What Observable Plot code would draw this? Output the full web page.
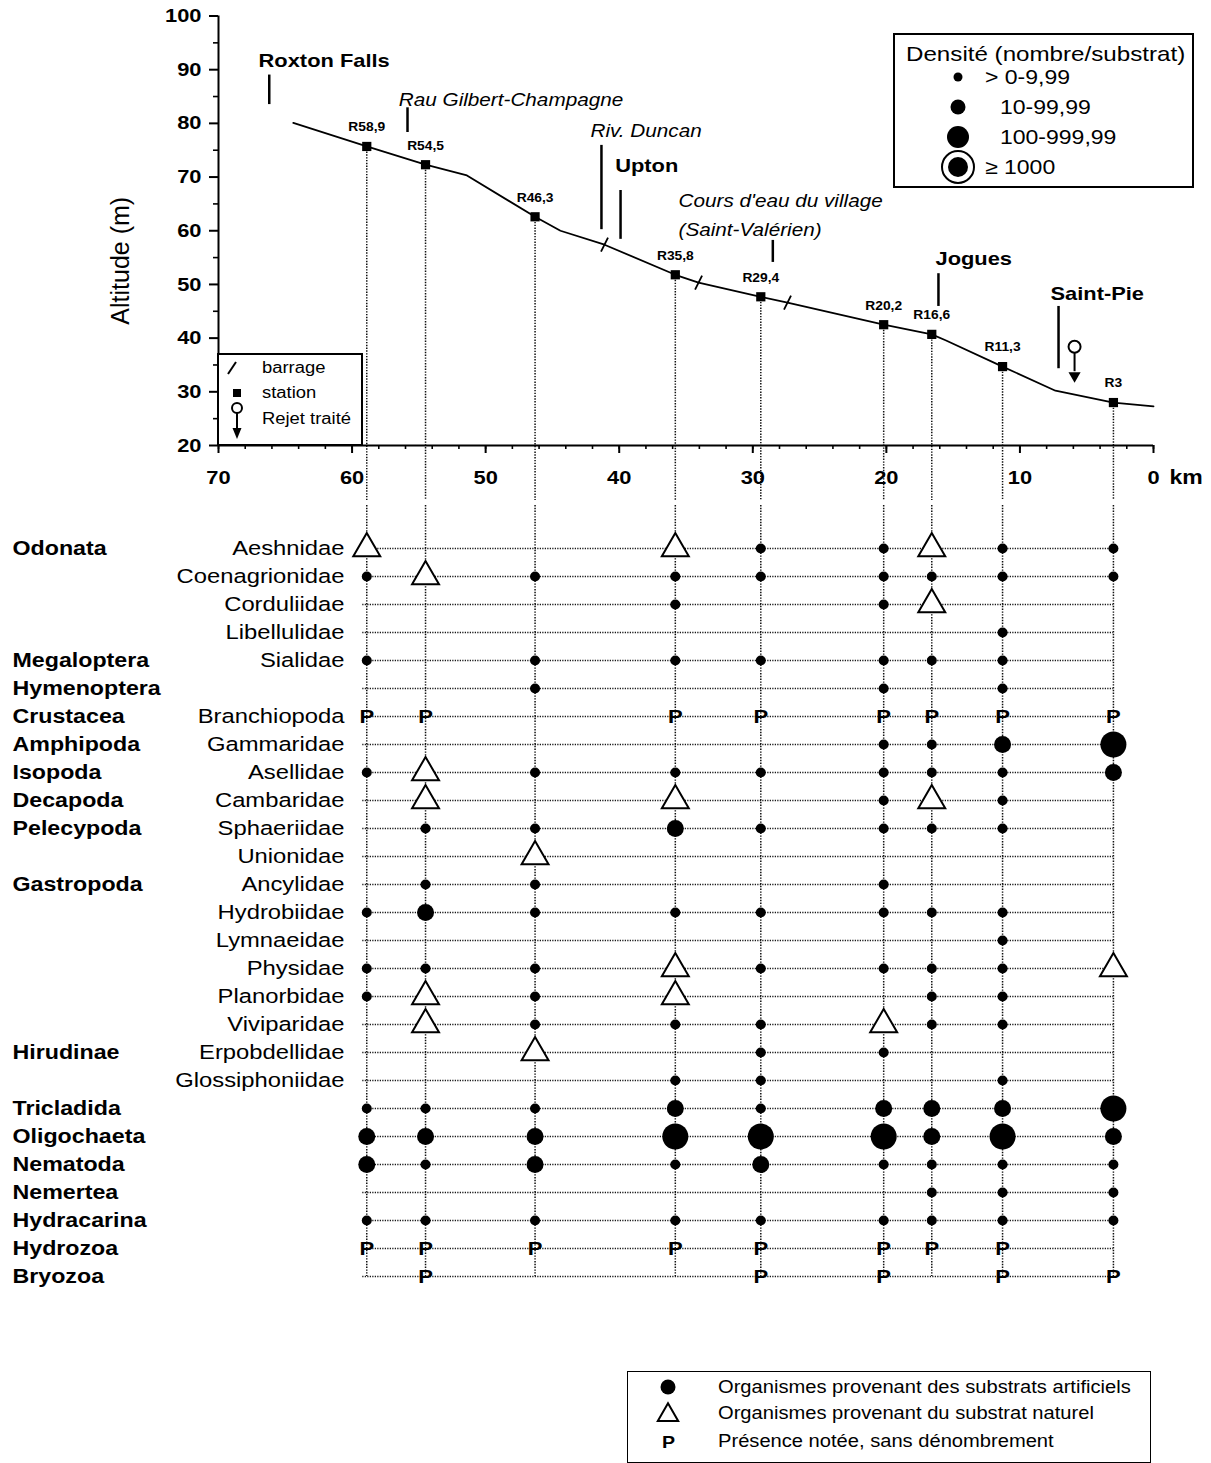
<!DOCTYPE html>
<html>
<head>
<meta charset="utf-8">
<script src="https://cdn.jsdelivr.net/npm/d3@7"></script>
<script src="https://cdn.jsdelivr.net/npm/@observablehq/plot@0.6"></script>
<style>
html,body{margin:0;padding:0;background:#fff;}
#page{position:relative;width:1211px;height:1463px;overflow:hidden;font-family:"Liberation Sans",Arial,sans-serif;color:#000;background:#fff;}
#top,#bottom{position:absolute;left:0;}
#top{top:0;}
#bottom{top:500px;}
.box{position:absolute;border:2px solid #000;background:#fff;box-sizing:border-box;}
.lbl{position:absolute;white-space:nowrap;line-height:1;transform-origin:0 50%;transform:translateY(-50%) scaleX(1.15);}
</style>
</head>
<body>
<div id="page">
  <div id="top"></div>
  <div id="bottom"></div>
</div>
<script>
// ---------------- DATA ----------------
const stationLabels = ["R58,9","R54,5","R46,3","R35,8","R29,4","R20,2","R16,6","R11,3","R3"];
const stationKm     = [58.9, 54.5, 46.3, 35.8, 29.4, 20.2, 16.6, 11.3, 3];
const stationAlt    = [75.7, 72.3, 62.6, 51.8, 47.7, 42.5, 40.7, 34.7, 28.0];

const profileKm  = [64.4, 58.9, 54.5, 51.4, 46.3, 44.4, 41.1, 35.8, 34.06, 29.4, 27.4, 20.2, 16.6, 15.57, 11.3, 7.34, 3, 0];
const profileAlt = [80.1, 75.7, 72.3, 70.3, 62.6, 60.0, 57.4, 51.8, 50.35, 47.7, 46.6, 42.5, 40.7, 39.6, 34.7, 30.2, 28.0, 27.3];

const barrageKm  = [41.1, 34.06, 27.4];
const barrageAlt = [57.4, 50.35, 46.6];

const placeNames   = ["Roxton Falls", "Rau Gilbert-Champagne", "Riv. Duncan", "Upton", "Cours d'eau du village\n(Saint-Valérien)", "Jogues", "Saint-Pie"];
const placeKind    = ["town", "stream", "stream", "town", "stream", "town", "town"];
const placeKm      = [66.2, 55.85, 41.33, 39.9, 28.5, 16.1, 7.11];
const placeAltLow  = [83.5, 78.3, 60.2, 58.4, 54.1, 45.9, 34.3];
const placeAltHigh = [89.0, 82.9, 75.9, 67.5, 58.2, 52.0, 45.9];
const placeLabelKm  = [67.0, 56.5, 42.15, 40.3, 35.56, 16.32, 7.71];
const placeLabelAlt = [91.7, 85.0, 79.2, 72.1, 63.5, 54.8, 48.3];

const rejetKm  = [5.91];
const rejetAlt = [38.4];

const xMajorTicks = [70, 60, 50, 40, 30, 20, 10, 0];
const xMinorTicks = d3.range(0, 71, 2);
const yMajorTicks = [20, 30, 40, 50, 60, 70, 80, 90, 100];
const yMinorTicks = [25, 35, 45, 55, 65, 75, 85, 95];

const orders = ["Odonata","","","","Megaloptera","Hymenoptera","Crustacea","Amphipoda","Isopoda","Decapoda","Pelecypoda","","Gastropoda","","","","","","Hirudinae","","Tricladida","Oligochaeta","Nematoda","Nemertea","Hydracarina","Hydrozoa","Bryozoa"];
const families = ["Aeshnidae","Coenagrionidae","Corduliidae","Libellulidae","Sialidae","","Branchiopoda","Gammaridae","Asellidae","Cambaridae","Sphaeriidae","Unionidae","Ancylidae","Hydrobiidae","Lymnaeidae","Physidae","Planorbidae","Viviparidae","Erpobdellidae","Glossiphoniidae","","","","","","",""];
// one character per station (R58,9 ... R3): 1..4 density class (artificial substrates),
// T natural substrate, P presence noted, . absent
const presence = [
  "T..T11T11",
  "1T1111111",
  "...1.1T..",
  ".......1.",
  "1.111111.",
  "..1..1.1.",
  "PP.PPPPPP",
  ".....1123",
  "1T1111112",
  ".T.T.1T1.",
  ".1121111.",
  "..T......",
  ".11..1...",
  "12111111.",
  ".......1.",
  "111T1111T",
  "1T1T..11.",
  ".T111T11.",
  "..T.11...",
  "...11..1.",
  "111212223",
  "222333232",
  "212121111",
  "......111",
  "111111111",
  "PPPPPPPP.",
  ".P..PP.PP"
];

const densityLegend = ["> 0-9,99", "10-99,99", "100-999,99", "\u2265 1000"];
const mapLegend = ["barrage", "station", "Rejet traité"];
const sourceLegend = ["Organismes provenant des substrats artificiels", "Organismes provenant du substrat naturel", "Présence notée, sans dénombrement"];

// ---------------- BUILD ----------------
const FONT = '"Liberation Sans", Arial, sans-serif';
const stations = stationKm.map((km, i) => ({km, alt: stationAlt[i], label: stationLabels[i]}));
const profile = profileKm.map((km, i) => ({km, alt: profileAlt[i]}));
const barrages = barrageKm.map((km, i) => ({km, alt: barrageAlt[i]}));
const places = placeNames.map((name, i) => ({name, kind: placeKind[i], km: placeKm[i], lo: placeAltLow[i], hi: placeAltHigh[i], lx: placeLabelKm[i], ly: placeLabelAlt[i]}));
const rejets = rejetKm.map((km, i) => ({km, alt: rejetAlt[i]}));

const slash = {draw(ctx, size) { const r = Math.sqrt(size / Math.PI); ctx.moveTo(-r * 0.5, r); ctx.lineTo(r * 0.5, -r); }};

const topPlot = Plot.plot({
  width: 1211, height: 500,
  marginLeft: 218, marginRight: 58, marginTop: 15.5, marginBottom: 55,
  x: {domain: [70, 0], axis: null},
  y: {domain: [20, 100], axis: null},
  style: {fontFamily: FONT, background: "none", overflow: "visible", color: "#000"},
  marks: [
    Plot.ruleX(stations, {x: "km", y1: "alt", y2: 20, insetBottom: -55, stroke: "#111", strokeWidth: 1.5, strokeDasharray: "1.4,1.4"}),
    Plot.ruleY([20], {x1: 70, x2: 0, stroke: "#000", strokeWidth: 2}),
    Plot.ruleX([70], {y1: 20, y2: 100, stroke: "#000", strokeWidth: 2}),
    Plot.ruleX(xMajorTicks, {x: d => d, y1: 20, y2: 20, insetBottom: -8, stroke: "#000", strokeWidth: 2}),
    Plot.ruleX(xMinorTicks, {x: d => d, y1: 20, y2: 20, insetBottom: -4, stroke: "#000", strokeWidth: 1.6}),
    Plot.ruleY(yMajorTicks, {y: d => d, x1: 70, x2: 70, insetLeft: -9, stroke: "#000", strokeWidth: 2}),
    Plot.ruleY(yMinorTicks, {y: d => d, x1: 70, x2: 70, insetLeft: -5, stroke: "#000", strokeWidth: 1.6}),
    Plot.text(xMajorTicks, {x: d => d, y: 20, dy: 32, text: d => String(d), fontSize: 19, fontWeight: "bold", fill: "#000"}),
    Plot.text(["km"], {x: 0, y: 20, dy: 32, dx: 16, text: d => d, textAnchor: "start", fontSize: 20, fontWeight: "bold", fill: "#000"}),
    Plot.text(yMajorTicks, {x: 70, y: d => d, dx: -17, text: d => String(d), textAnchor: "end", fontSize: 19, fontWeight: "bold", fill: "#000"}),
    Plot.text(["Altitude (m)"], {frameAnchor: "left", dx: -98, dy: 30, rotate: -90, textAnchor: "middle", text: d => d, fontSize: 25, fill: "#000"}),
    Plot.line(profile, {x: "km", y: "alt", stroke: "#000", strokeWidth: 1.8}),
    Plot.dot(barrages, {x: "km", y: "alt", symbol: slash, r: 7, stroke: "#000", strokeWidth: 1.8, fill: "none"}),
    Plot.dot(stations, {x: "km", y: "alt", symbol: "square", r: 5.2, fill: "#000", stroke: "none"}),
    Plot.text(stations, {x: "km", y: "alt", dy: -19, text: "label", fontSize: 12, fontWeight: "bold", fill: "#000"}),
    Plot.ruleX(places, {x: "km", y1: "hi", y2: "lo", stroke: "#000", strokeWidth: 2.5}),
    Plot.text(places.filter(d => d.kind === "town"), {x: "lx", y: "ly", text: "name", textAnchor: "start", fontSize: 19, fontWeight: "bold", fill: "#000"}),
    Plot.text(places.filter(d => d.kind === "stream"), {x: "lx", y: "ly", text: "name", textAnchor: "start", fontSize: 18, fontStyle: "italic", lineHeight: 1.6, fill: "#000"}),
    Plot.ruleX(rejets, {x: "km", y1: "alt", y2: "alt", insetTop: 6, insetBottom: -25, stroke: "#000", strokeWidth: 2}),
    Plot.dot(rejets, {x: "km", y: "alt", r: 6, fill: "#fff", stroke: "#000", strokeWidth: 2}),
    Plot.dot(rejets, {x: "km", y: "alt", dy: 29, symbol: "triangle", rotate: 180, r: 4.5, fill: "#000"})
  ]
});
document.getElementById("top").appendChild(topPlot);

// matrix
const rowIdx = d3.range(orders.length);
const cells = [];
presence.forEach((s, r) => {
  s.split("").forEach((c, j) => { if (c !== ".") cells.push({row: r, km: stationKm[j], code: c}); });
});
const dotR = {"1": 5, "2": 8.5, "3": 13, "4": 11};

const bottomPlot = Plot.plot({
  width: 1211, height: 800,
  marginLeft: 218, marginRight: 58, marginTop: 43, marginBottom: 20,
  x: {domain: [70, 0], axis: null},
  y: {type: "point", domain: rowIdx, range: [43, 780], padding: 0, axis: null},
  style: {fontFamily: FONT, background: "none", overflow: "visible", color: "#000"},
  marks: [
    Plot.ruleX(stations, {x: "km", y1: 0, y2: rowIdx.length - 1, insetTop: -43, stroke: "#111", strokeWidth: 1.5, strokeDasharray: "1.4,1.4"}),
    Plot.ruleY(rowIdx, {y: d => d, x1: stationKm[0], x2: stationKm[stationKm.length - 1], insetLeft: -4, stroke: "#111", strokeWidth: 1.4, strokeDasharray: "1.2,1.3"}),
    Plot.text(rowIdx.filter(i => orders[i]), {y: i => i, text: i => orders[i], frameAnchor: "left", dx: -206, textAnchor: "start", fontSize: 20, fontWeight: "bold", fill: "#000"}),
    Plot.text(rowIdx.filter(i => families[i]), {y: i => i, text: i => families[i], frameAnchor: "left", dx: 126, textAnchor: "end", fontSize: 20.5, fill: "#000"}),
    ...["1", "2", "3"].map(k => Plot.dot(cells.filter(d => d.code === k), {x: "km", y: "row", r: dotR[k], fill: "#000", stroke: "none"})),
    Plot.dot(cells.filter(d => d.code === "4"), {x: "km", y: "row", r: 17, fill: "#fff", stroke: "#000", strokeWidth: 2}),
    Plot.dot(cells.filter(d => d.code === "4"), {x: "km", y: "row", r: dotR["4"], fill: "#000"}),
    Plot.dot(cells.filter(d => d.code === "T"), {x: "km", y: "row", symbol: "triangle", r: 10, fill: "#fff", stroke: "#000", strokeWidth: 2}),
    Plot.text(cells.filter(d => d.code === "P"), {x: "km", y: "row", text: () => "P", fontSize: 19, fontWeight: "bold", fill: "#000"})
  ]
});
document.getElementById("bottom").appendChild(bottomPlot);

// horizontal stretch of scanned lettering
function stretch(svg, k) {
  svg.querySelectorAll("text").forEach(t => {
    const tr = t.getAttribute("transform") || "";
    if (/rotate/.test(tr)) return;
    const tsp = t.querySelectorAll("tspan");
    const els = tsp.length ? Array.from(tsp) : [t];
    els.forEach(e => {
      const L = e.getComputedTextLength();
      if (L > 0) { e.setAttribute("textLength", (L * k).toFixed(2)); e.setAttribute("lengthAdjust", "spacingAndGlyphs"); }
    });
  });
}
stretch(topPlot, 1.15);
stretch(bottomPlot, 1.16);

// ---------------- LEGENDS ----------------
const page = d3.select("#page");
function box(l, t, w, h, bw) {
  page.append("div").attr("class", "box").style("left", l + "px").style("top", t + "px").style("width", w + "px").style("height", h + "px").style("border-width", bw + "px");
}
box(217, 353, 146, 93, 2);
box(893, 33, 301, 155, 2);
box(627, 1371, 524, 92, 1.5);

const ov = page.append("svg").attr("width", 1211).attr("height", 1463)
  .style("position", "absolute").style("left", 0).style("top", 0).style("pointer-events", "none");
// map legend symbols
ov.append("line").attr("x1", 228).attr("y1", 374).attr("x2", 236).attr("y2", 362).attr("stroke", "#000").attr("stroke-width", 2);
ov.append("rect").attr("x", 233).attr("y", 389).attr("width", 8).attr("height", 8).attr("fill", "#000");
ov.append("line").attr("x1", 237).attr("y1", 413).attr("x2", 237).attr("y2", 429).attr("stroke", "#000").attr("stroke-width", 2);
ov.append("circle").attr("cx", 237).attr("cy", 408).attr("r", 5).attr("fill", "#fff").attr("stroke", "#000").attr("stroke-width", 2);
ov.append("path").attr("d", "M232.5,428 L241.5,428 L237,439 Z").attr("fill", "#000");
// density legend symbols
[[77, 4.5], [107, 7.5], [137, 11], [167, 10]].forEach(([cy, r]) => {
  ov.append("circle").attr("cx", 958).attr("cy", cy).attr("r", r).attr("fill", "#000");
});
ov.append("circle").attr("cx", 958).attr("cy", 167).attr("r", 16).attr("fill", "none").attr("stroke", "#000").attr("stroke-width", 2);
// source legend symbols
ov.append("circle").attr("cx", 668).attr("cy", 1387).attr("r", 7.5).attr("fill", "#000");
ov.append("path").attr("d", d3.symbol(d3.symbolTriangle, 180)()).attr("transform", "translate(668,1415)").attr("fill", "#fff").attr("stroke", "#000").attr("stroke-width", 2);

function label(txt, l, cy, size, weight) {
  page.append("div").attr("class", "lbl").style("left", l + "px").style("top", cy + "px")
    .style("font-size", size + "px").style("font-weight", weight || "normal").text(txt);
}
label(mapLegend[0], 262, 368, 16);
label(mapLegend[1], 262, 393, 16);
label(mapLegend[2], 262, 419, 16);
label("Densité (nombre/substrat)", 906, 53, 21);
label(densityLegend[0], 985, 77, 20);
label(densityLegend[1], 1000, 107, 20);
label(densityLegend[2], 1000, 137, 20);
label(densityLegend[3], 985, 167, 20);
label("P", 662, 1442, 17, "bold");
label(sourceLegend[0], 718, 1388, 17.5);
label(sourceLegend[1], 718, 1414, 17.5);
label(sourceLegend[2], 718, 1442, 17.5);
</script>
</body>
</html>
